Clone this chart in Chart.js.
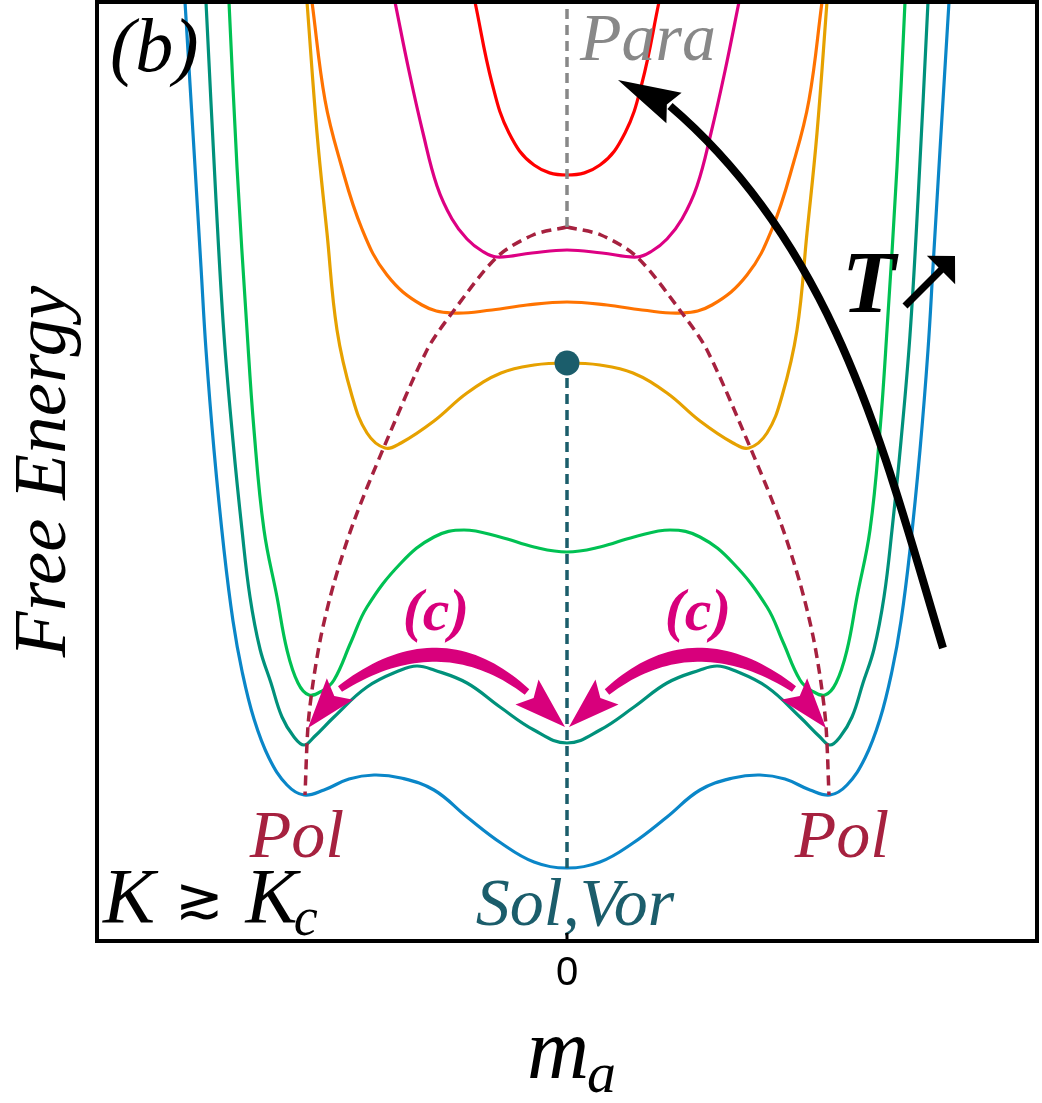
<!DOCTYPE html>
<html>
<head>
<meta charset="utf-8">
<script src="https://cdn.jsdelivr.net/npm/chart.js@4.4.0/dist/chart.umd.min.js"></script>
<style>
  html, body { margin: 0; padding: 0; background: #fff; }
  #wrap { width: 1042px; height: 1103px; }
</style>
</head>
<body>
<div id="wrap"><canvas id="chart" width="1042" height="1103"></canvas></div>
<script>
// m_a runs from -4.7 to 4.7, free energy from 0 to 9.39 (arbitrary units)
const xTicks = [0]

const blueCurve = [[-3.82,9.39],[-3.73,7.91],[-3.66,6.74],[-3.61,5.91],[-3.53,4.91],[-3.43,3.91],[-3.34,3.20],[-3.25,2.70],[-3.13,2.22],[-2.98,1.83],[-2.80,1.56],[-2.63,1.46],[-2.43,1.51],[-2.18,1.62],[-1.93,1.66],[-1.66,1.63],[-1.33,1.51],[-1.00,1.24],[-0.66,0.98],[-0.33,0.79],[0,0.73],
  [0.33,0.79],[0.66,0.98],[1.00,1.24],[1.33,1.51],[1.66,1.63],[1.93,1.66],[2.18,1.62],[2.43,1.51],[2.63,1.46],[2.80,1.56],[2.98,1.83],[3.13,2.22],[3.25,2.70],[3.34,3.20],[3.43,3.91],[3.53,4.91],[3.61,5.91],[3.66,6.74],[3.73,7.91],[3.82,9.39]]
const tealCurve = [[-3.61,9.39],[-3.51,7.41],[-3.43,6.06],[-3.34,5.00],[-3.25,4.11],[-3.17,3.44],[-3.07,2.92],[-2.96,2.58],[-2.85,2.24],[-2.73,2.04],[-2.63,1.96],[-2.53,2.04],[-2.33,2.24],[-2.00,2.54],[-1.66,2.71],[-1.50,2.75],[-1.33,2.71],[-1.00,2.58],[-0.67,2.34],[-0.33,2.11],[0,1.98],
  [0.33,2.11],[0.67,2.34],[1.00,2.58],[1.33,2.71],[1.50,2.75],[1.66,2.71],[2.00,2.54],[2.33,2.24],[2.53,2.04],[2.63,1.96],[2.73,2.04],[2.85,2.24],[2.96,2.58],[3.07,2.92],[3.17,3.44],[3.25,4.11],[3.34,5.00],[3.43,6.06],[3.51,7.41],[3.61,9.39]]
const greenCurve = [[-3.38,9.39],[-3.30,7.74],[-3.20,6.11],[-3.13,5.11],[-3.03,4.11],[-2.90,3.44],[-2.80,2.91],[-2.69,2.58],[-2.58,2.46],[-2.45,2.50],[-2.33,2.61],[-2.16,2.99],[-2.00,3.34],[-1.66,3.78],[-1.33,4.04],[-1.03,4.11],[-0.67,4.04],[-0.33,3.94],[0,3.89],
  [0.33,3.94],[0.67,4.04],[1.03,4.11],[1.33,4.04],[1.66,3.78],[2.00,3.34],[2.16,2.99],[2.33,2.61],[2.45,2.50],[2.58,2.46],[2.69,2.58],[2.80,2.91],[2.90,3.44],[3.03,4.11],[3.13,5.11],[3.20,6.11],[3.30,7.74],[3.38,9.39]]
const goldCurve = [[-2.60,9.39],[-2.50,8.08],[-2.40,7.08],[-2.30,6.11],[-2.15,5.45],[-2.00,5.08],[-1.82,4.93],[-1.66,4.98],[-1.33,5.20],[-1.00,5.48],[-0.66,5.68],[-0.33,5.76],[0,5.78],
  [0.33,5.76],[0.66,5.68],[1.00,5.48],[1.33,5.20],[1.66,4.98],[1.82,4.93],[2.00,5.08],[2.15,5.45],[2.30,6.11],[2.40,7.08],[2.50,8.08],[2.60,9.39]]
const orangeCurve = [[-2.55,9.39],[-2.42,8.41],[-2.27,7.80],[-2.05,7.12],[-1.80,6.66],[-1.45,6.36],[-1.15,6.28],[-0.75,6.31],[-0.40,6.36],[0,6.39],
  [0.40,6.36],[0.75,6.31],[1.15,6.28],[1.45,6.36],[1.80,6.66],[2.05,7.12],[2.27,7.80],[2.42,8.41],[2.55,9.39]]
const magentaCurve = [[-1.72,9.39],[-1.58,8.70],[-1.44,8.08],[-1.30,7.55],[-1.15,7.22],[-1.00,7.02],[-0.85,6.90],[-0.70,6.84],[-0.35,6.88],[0,6.91],
  [0.35,6.88],[0.70,6.84],[0.85,6.90],[1.00,7.02],[1.15,7.22],[1.30,7.55],[1.44,8.08],[1.58,8.70],[1.72,9.39]]
const redCurve = [[-0.92,9.39],[-0.75,8.58],[-0.58,8.08],[-0.33,7.76],[0,7.66],[0.33,7.76],[0.58,8.08],[0.75,8.58],[0.92,9.39]]

// locus of the polar minima, split at the cusp
const polLeft = [[0,7.14],[-0.34,7.06],[-0.70,6.84],[-1.15,6.28],[-1.40,5.91],[-1.83,4.94],[-2.13,4.20],[-2.33,3.58],[-2.46,3.05],[-2.54,2.58],[-2.59,2.15],[-2.62,1.46]]
const polRight = [[0,7.14],[0.34,7.06],[0.70,6.84],[1.15,6.28],[1.40,5.91],[1.83,4.94],[2.13,4.20],[2.33,3.58],[2.46,3.05],[2.54,2.58],[2.59,2.15],[2.62,1.46]]
const paraLine = [[0,7.14],[0,9.39]]
const solLine = [[0,0.73],[0,5.78]]
const solPoint = [[0,5.78]]

// annotation geometry in data units
const tArrow = [[3.76,2.93],[3.18,4.85],[2.71,6.91],[1.03,8.35]]  // cubic bezier
const tArrowTip = [0.51,8.61]
const leftSwitch = [[-2.59,2.13],[-2.27,2.52],[-1.27,3.22],[-0.40,2.49],[-0.02,2.14]]
const rightSwitch = [[0.02,2.14],[0.40,2.49],[1.27,3.22],[2.27,2.52],[2.59,2.13]]

const serif = '"Liberation Serif", "DejaVu Serif", serif'

function head(ctx, base, tip, hw, notch) {
    const dx = tip[0] - base[0], dy = tip[1] - base[1]
    const len = Math.hypot(dx, dy), ux = dx / len, uy = dy / len
    ctx.beginPath()
    ctx.moveTo(tip[0], tip[1])
    ctx.lineTo(base[0] - uy * hw, base[1] + ux * hw)
    ctx.lineTo(base[0] + ux * notch, base[1] + uy * notch)
    ctx.lineTo(base[0] + uy * hw, base[1] - ux * hw)
    ctx.closePath()
    ctx.fill()
}

// tapered quadratic band, thicker in the middle
function swoosh(ctx, a, c, b, w0, w1) {
    const n = 40, side = []
    for (let i = 0; i <= n; i++) {
        const t = i / n, mt = 1 - t
        const px = mt * mt * a[0] + 2 * mt * t * c[0] + t * t * b[0]
        const py = mt * mt * a[1] + 2 * mt * t * c[1] + t * t * b[1]
        const tx = 2 * mt * (c[0] - a[0]) + 2 * t * (b[0] - c[0])
        const ty = 2 * mt * (c[1] - a[1]) + 2 * t * (b[1] - c[1])
        const l = Math.hypot(tx, ty), w = (w0 + (w1 - w0) * Math.sin(Math.PI * t)) / 2
        side.push([px - ty / l * w, py + tx / l * w, px + ty / l * w, py - tx / l * w])
    }
    ctx.beginPath()
    side.forEach((p, i) => i ? ctx.lineTo(p[0], p[1]) : ctx.moveTo(p[0], p[1]))
    for (let i = n; i >= 0; i--) ctx.lineTo(side[i][2], side[i][3])
    ctx.closePath()
    ctx.fill()
}

const notes = {
    id: 'notes',
    afterDatasetsDraw(chart) {
        const {ctx, scales: {x, y}} = chart
        const P = (p) => [x.getPixelForValue(p[0]), y.getPixelForValue(p[1])]
        ctx.save()

        // (c) switching arrows
        ctx.fillStyle = '#d8007c'
        for (const s of [leftSwitch, rightSwitch]) {
            const q = s.map(P)
            swoosh(ctx, q[1], q[2], q[3], 7, 14)
            head(ctx, q[1], q[0], 17, 9)
            head(ctx, q[3], q[4], 17, 9)
        }

        // T arrow
        const c = tArrow.map(P)
        ctx.strokeStyle = '#000'
        ctx.lineWidth = 8
        ctx.beginPath()
        ctx.moveTo(c[0][0], c[0][1])
        ctx.bezierCurveTo(c[1][0], c[1][1], c[2][0], c[2][1], c[3][0], c[3][1])
        ctx.stroke()
        ctx.fillStyle = '#000'
        head(ctx, [c[3][0] + 4, c[3][1] + 2], P(tArrowTip), 17, 8)

        // small arrow next to T
        const s0 = P([3.38, 6.35]), s1 = P([3.88, 6.85])
        ctx.lineWidth = 7
        ctx.beginPath()
        ctx.moveTo(s0[0], s0[1])
        ctx.lineTo(s1[0] - 12, s1[1] + 12)
        ctx.stroke()
        head(ctx, [s1[0] - 14, s1[1] + 14], s1, 20, 0)

        // labels
        ctx.textBaseline = 'alphabetic'
        ctx.textAlign = 'left'
        let p = P([-4.57, 8.70])
        ctx.fillStyle = '#000'
        ctx.font = `italic 76px ${serif}`
        ctx.fillText('(b)', p[0], p[1])

        p = P([0.13, 8.81])
        ctx.fillStyle = '#888888'
        ctx.font = `italic 68px ${serif}`
        ctx.fillText('Para', p[0], p[1])

        p = P([2.75, 6.29])
        ctx.fillStyle = '#000'
        ctx.font = `italic bold 88px ${serif}`
        ctx.fillText('T', p[0], p[1])

        ctx.textAlign = 'center'
        ctx.fillStyle = '#d8007c'
        ctx.font = `italic bold 60px ${serif}`
        for (const cx of [-1.31, 1.31]) {
            p = P([cx, 3.11])
            ctx.fillText('(c)', p[0], p[1])
        }

        ctx.fillStyle = '#a6213f'
        ctx.font = `italic 68px ${serif}`
        for (const cx of [-2.70, 2.75]) {
            p = P([cx, 0.84])
            ctx.fillText('Pol', p[0], p[1])
        }

        p = P([0.08, 0.16])
        ctx.fillStyle = '#1b5d6b'
        ctx.fillText('Sol,Vor', p[0], p[1])

        // K >~ K_c
        ctx.textAlign = 'left'
        ctx.fillStyle = '#000'
        p = P([-4.64, 0.19])
        let kx = p[0]
        ctx.font = `italic 78px ${serif}`
        ctx.fillText('K', kx, p[1])
        kx += ctx.measureText('K').width + 20
        ctx.font = `58px "DejaVu Sans", sans-serif`
        ctx.fillText('\u2273', kx, p[1] - 4)
        kx += ctx.measureText('\u2273').width + 22
        ctx.font = `italic 78px ${serif}`
        ctx.fillText('K', kx, p[1])
        kx += ctx.measureText('K').width - 4
        ctx.font = `italic 54px ${serif}`
        ctx.fillText('c', kx, p[1] + 13)

        ctx.restore()
    },
    afterDraw(chart) {
        const {ctx, chartArea: a, scales: {x}} = chart
        ctx.save()
        ctx.strokeStyle = '#000'
        ctx.lineWidth = 4
        ctx.strokeRect(a.left, a.top, a.right - a.left, a.bottom - a.top)
        // inward tick marks
        ctx.lineWidth = 3
        for (const v of xTicks) {
            const tx = x.getPixelForValue(v)
            ctx.beginPath()
            ctx.moveTo(tx, a.bottom)
            ctx.lineTo(tx, a.bottom - 8)
            ctx.stroke()
        }
        // x axis title m_a
        ctx.fillStyle = '#000'
        ctx.textBaseline = 'alphabetic'
        ctx.textAlign = 'left'
        ctx.font = `italic 86px ${serif}`
        const mw = ctx.measureText('m').width
        const mx = x.getPixelForValue(0) - 40
        ctx.fillText('m', mx, 1078)
        ctx.font = `italic 58px ${serif}`
        ctx.fillText('a', mx + mw - 2, 1092)
        ctx.restore()
    }
}

const line = (data, color, extra) => Object.assign({
    data: data, borderColor: color, borderWidth: 3.2, pointRadius: 0,
    tension: 0.4, fill: false
}, extra || {})

let ctx = document.getElementById('chart').getContext('2d');
let chart = new Chart(ctx, {
    type: 'line',
    data: {
        datasets: [
            {data: solPoint, showLine: false, pointRadius: 12.5, pointBackgroundColor: '#1b5d6b', pointBorderWidth: 0},
            line(solLine, '#1b5d6b', {borderDash: [10, 6], borderWidth: 3.5, tension: 0}),
            line(paraLine, '#888888', {borderDash: [10, 6], borderWidth: 3.5, tension: 0}),
            line(polLeft, '#a6213f', {borderDash: [10, 6], borderWidth: 3.5, tension: 0.3}),
            line(polRight, '#a6213f', {borderDash: [10, 6], borderWidth: 3.5, tension: 0.3}),
            line(redCurve, '#ff0000'),
            line(magentaCurve, '#dd0083'),
            line(orangeCurve, '#ff7300'),
            line(goldCurve, '#e6a100'),
            line(greenCurve, '#00c153'),
            line(tealCurve, '#00917b'),
            line(blueCurve, '#0a86c8')
        ]
    },
    options: {
        responsive: false,
        animation: false,
        devicePixelRatio: 1,
        layout: {
            autoPadding: false,
            padding: {left: 0, right: 5, top: 2, bottom: 0}
        },
        plugins: {
            legend: {display: false},
            tooltip: {enabled: false}
        },
        scales: {
            x: {
                type: 'linear',
                min: -4.7,
                max: 4.7,
                grid: {display: false, drawTicks: false},
                border: {display: false},
                afterBuildTicks: (axis) => { axis.ticks = xTicks.map(v => ({value: v})) },
                afterFit: (axis) => { axis.height = 162 },
                ticks: {
                    padding: 9,
                    color: '#000',
                    font: {family: '"Liberation Sans", sans-serif', size: 40},
                    maxRotation: 0
                }
            },
            y: {
                type: 'linear',
                min: 0,
                max: 9.39,
                grid: {display: false, drawTicks: false},
                border: {display: false},
                ticks: {display: false},
                afterFit: (axis) => { axis.width = 97 },
                title: {
                    display: true,
                    text: 'Free Energy',
                    color: '#000',
                    padding: {top: 0, bottom: 0},
                    font: {family: serif, style: 'italic', size: 75}
                }
            }
        }
    },
    plugins: [notes]
})
</script>
</body>
</html>
